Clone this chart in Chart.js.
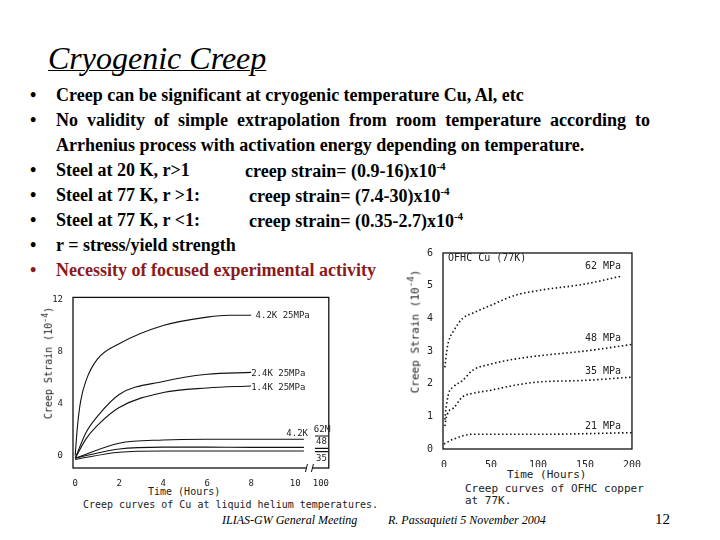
<!DOCTYPE html>
<html><head><meta charset="utf-8">
<script src="https://cdn.jsdelivr.net/npm/chart.js@4"></script>
<style>
body{margin:0;width:720px;height:540px;background:#fff;position:relative;overflow:hidden;font-family:"Liberation Serif",serif}
.a{position:absolute;white-space:nowrap}
.b{font-weight:bold;font-size:18px;color:#000}
.m{font-family:"DejaVu Sans Mono",monospace;font-size:10px;color:#222}
</style></head><body>
<div class="a" style="left:48px;top:40px;font-size:32px;font-style:italic;text-decoration:underline;text-decoration-thickness:1px">Cryogenic Creep</div>
<div class="a b" style="left:30px;top:85px">•</div><div class="a b" style="left:56px;top:85px">Creep can be significant at cryogenic temperature Cu, Al, etc</div>
<div class="a b" style="left:30px;top:110px">•</div><div class="a b" style="left:56px;top:110px;width:594px;text-align:justify;text-align-last:justify;white-space:normal">No validity of simple extrapolation from room temperature according to</div>
<div class="a b" style="left:56px;top:135px">Arrhenius process with activation energy depending on temperature.</div>
<div class="a b" style="left:30px;top:160px">•</div><div class="a b" style="left:56px;top:160px">Steel at 20 K, r&gt;1</div><div class="a b" style="left:245px;top:160px">creep strain= (0.9-16)x10<sup style="font-size:11px">-4</sup></div>
<div class="a b" style="left:30px;top:185px">•</div><div class="a b" style="left:56px;top:185px">Steel at 77 K, r &gt;1:</div><div class="a b" style="left:249px;top:185px">creep strain= (7.4-30)x10<sup style="font-size:11px">-4</sup></div>
<div class="a b" style="left:30px;top:210px">•</div><div class="a b" style="left:56px;top:210px">Steel at 77 K, r &lt;1:</div><div class="a b" style="left:249px;top:210px">creep strain= (0.35-2.7)x10<sup style="font-size:11px">-4</sup></div>
<div class="a b" style="left:30px;top:235px">•</div><div class="a b" style="left:56px;top:235px">r = stress/yield strength</div>
<div class="a b" style="left:30px;top:260px;color:#8B1A1A">•</div><div class="a b" style="left:56px;top:260px;color:#8B1A1A">Necessity of focused experimental activity</div>

<canvas id="c1" class="a" width="281" height="196" style="left:50px;top:290px"></canvas>
<canvas id="c2" class="a" width="223" height="222" style="left:420px;top:245px"></canvas>
<div class="a m" style="left:-3px;top:362px;transform:rotate(-90deg);transform-origin:center;width:100px;text-align:center">Creep Strain (10<sup>-4</sup>)</div>
<div class="a m" style="left:148px;top:486px">Time (Hours)</div>
<div class="a m" style="left:83px;top:499px">Creep curves of Cu at liquid helium temperatures.</div>
<div class="a m" style="left:358px;top:330px;transform:rotate(-90deg);transform-origin:center;width:110px;text-align:center;font-size:11px">Creep Strain (10<sup>-4</sup>)</div>
<div class="a m" style="left:507px;top:468px;font-size:11px">Time (Hours)</div>
<div class="a m" style="left:465px;top:482px;font-size:11px">Creep curves of OFHC copper</div>
<div class="a m" style="left:465px;top:494px;font-size:11px">at 77K.</div>
<div class="a" style="left:222px;top:513px;font-size:12px;font-style:italic">ILIAS-GW General Meeting</div>
<div class="a" style="left:388px;top:513px;font-size:12px;font-style:italic">R. Passaquieti 5 November 2004</div>
<div class="a" style="left:655px;top:511px;font-size:15px">12</div>
<script>
// Left chart: Cu at liquid helium temperatures (hours; 11.17 = 100 h after axis break)
const tA = [0, 0.1, 0.25, 0.5, 1, 2, 4, 6, 7, 8];
const k42_25 = [0, 2.2, 4.2, 5.8, 7.4, 8.6, 10.0, 10.65, 10.8, 10.8];
const tB = [0, 0.5, 1, 2, 4, 6, 8];
const k24_25 = [-0.2, 1.8, 3.0, 4.7, 5.7, 6.25, 6.4];
const k14_25 = [-0.2, 1.3, 2.3, 3.7, 4.85, 5.2, 5.35];
const tC = [0, 2, 4, 6, 8, 10.4];
const k42_62 = [-0.2, 0.95, 1.2, 1.25, 1.25, 1.25];
const k42_48 = [-0.2, 0.5, 0.65, 0.65, 0.63, 0.63];
const k42_35 = [-0.3, 0.25, 0.35, 0.35, 0.35, 0.35];
const tD = [10.9, 11.5];
const after62 = [1.5, 1.5], after48 = [0.55, 0.55], after35 = [0.3, 0.3];
const xTicksL = [0, 2, 4, 6, 8, 10, 11.17];
const xTickLabelsL = ['0', '2', '4', '6', '8', '10', '100'];
const yTicksL = [0, 4, 8, 12];
// Right chart: OFHC Cu at 77K
const t62 = [1, 3, 5, 10, 20, 30, 50, 75, 100, 150, 190];
const s62 = [2.5, 3.0, 3.3, 3.6, 4.0, 4.15, 4.4, 4.7, 4.85, 5.05, 5.3];
const t48 = [1, 2, 5, 10, 20, 30, 50, 75, 100, 150, 200];
const s48 = [0.9, 1.2, 1.7, 1.9, 2.1, 2.4, 2.6, 2.75, 2.85, 3.0, 3.2];
const s35 = [0.7, 0.9, 1.15, 1.25, 1.6, 1.7, 1.8, 1.95, 2.05, 2.1, 2.2];
const t21 = [0, 10, 30, 50, 100, 200];
const s21 = [0.15, 0.3, 0.45, 0.45, 0.45, 0.5];

const pts = (xs, ys) => xs.map((x, i) => ({x, y: ys[i]}));
function line(xs, ys, dash){return {data: pts(xs, ys), borderColor: '#111', borderWidth: dash?1.6:1.1, borderDash: dash?[1.5,2.5]:[], pointRadius: 0, fill: false, cubicInterpolationMode: 'monotone'};}
const frame = {id:'frame', afterDraw(c, a, o){const ctx=c.ctx, ca=c.chartArea; ctx.save(); ctx.strokeStyle='#111'; ctx.lineWidth=1.3; ctx.strokeRect(ca.left, ca.top, ca.right-ca.left, ca.bottom-ca.top);
  ctx.fillStyle='#222'; ctx.font=(o.size||9)+'px DejaVu Sans Mono'; const xs=c.scales.x, ys=c.scales.y;
  (o.labels||[]).forEach(l=>{ctx.fillText(l[2], xs.getPixelForValue(l[0]), ys.getPixelForValue(l[1]));});
  if(o.brk){ctx.fillStyle='#fff'; const bx=xs.getPixelForValue(o.brk); ctx.fillRect(bx-3, ca.bottom-3, 6, 6); ctx.strokeStyle='#111'; ctx.lineWidth=1;
    [bx-3,bx+3].forEach(p=>{ctx.beginPath(); ctx.moveTo(p-1, ca.bottom+4); ctx.lineTo(p+1, ca.bottom-4); ctx.stroke();});}
  ctx.restore();}};
function scales(xmin,xmax,ymin,ymax,xt,xl,yt,fs){return {
  x:{type:'linear',min:xmin,max:xmax,grid:{display:false},border:{display:false},afterFit:s=>{s.height=18},
     afterBuildTicks:s=>{s.ticks=xt.map(v=>({value:v}))},ticks:{color:'#222',font:{family:'DejaVu Sans Mono',size:fs},padding:2,maxRotation:0,autoSkip:false,callback:(v)=>xl?xl[xt.indexOf(v)]:String(v)}},
  y:{type:'linear',min:ymin,max:ymax,grid:{display:false},border:{display:false},afterFit:s=>{s.width=23},
     afterBuildTicks:s=>{s.ticks=yt.map(v=>({value:v}))},ticks:{color:'#222',font:{family:'DejaVu Sans Mono',size:fs},padding:2}}};}

new Chart(document.getElementById('c1'), {type:'line', plugins:[frame],
  data:{datasets:[line(tA,k42_25),line(tB,k24_25),line(tB,k14_25),line(tC,k42_62),line(tC,k42_48),line(tC,k42_35),line(tD,after62),line(tD,after48),line(tD,after35)]},
  options:{responsive:false,animation:false,devicePixelRatio:1,layout:{padding:{top:4,right:0}},
    plugins:{legend:{display:false},tooltip:{enabled:false},
      frame:{size:9,brk:10.65,labels:[[8.2,10.55,'4.2K 25MPa'],[8.0,6.1,'2.4K 25MPa'],[8.0,5.05,'1.4K 25MPa'],[9.6,1.5,'4.2K'],[10.85,1.8,'62MPa'],[10.95,0.9,'48'],[10.95,-0.4,'35']]}},
    scales:scales(-0.1,11.53,-0.96,12.17,xTicksL,xTickLabelsL,yTicksL,9)}});
new Chart(document.getElementById('c2'), {type:'line', plugins:[frame],
  data:{datasets:[line(t62,s62,1),line(t48,s48,1),line(t48,s35,1),line(t21,s21,1)]},
  options:{responsive:false,animation:false,devicePixelRatio:1,layout:{padding:{top:7,right:5}},
    plugins:{legend:{display:false},tooltip:{enabled:false},
      frame:{size:10,labels:[[-2,5.75,' OFHC Cu (77K)'],[150,5.5,'62 MPa'],[150,3.3,'48 MPa'],[150,2.3,'35 MPa'],[150,0.6,'21 MPa']]}},
    scales:scales(-1,200,0,6,[0,50,100,150,200],null,[0,1,2,3,4,5,6],10)}});
</script>
</body></html>
